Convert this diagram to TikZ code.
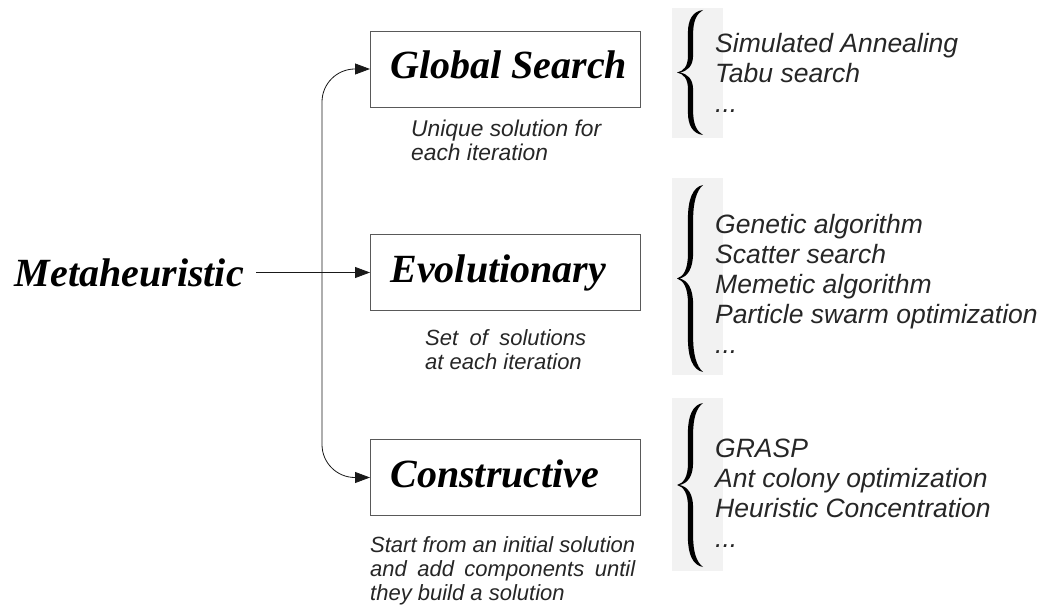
\documentclass[tikz,border=0pt]{standalone}
\usepackage{fontspec}
\setmainfont{Liberation Serif}
\setsansfont{Liberation Sans}
\usetikzlibrary{arrows.meta,positioning}

\tikzset{
    x=1pt, y=-1pt,
    classbox/.style={draw=black!65, line width=0.9pt, minimum width=270pt, minimum height=76pt,
        inner xsep=20pt, inner ysep=0pt, align=left,
        text height=30pt, text depth=10pt,
        font=\fontsize{40}{40}\selectfont\bfseries\itshape},
    flow/.style={draw=black!90, line width=0.8pt, -{Triangle[length=15pt,width=11pt]}},
    notetext/.style={anchor=north west, inner sep=0pt, align=left, text=black!85,
        font=\sffamily\itshape\fontsize{22}{24}\selectfont},
    listtext/.style={anchor=north west, inner sep=0pt, align=left, text=black!85,
        font=\sffamily\itshape\fontsize{26.5}{30}\selectfont},
    bracebg/.style={fill=black!5, draw=none},
    % curly brace in a unit box: point at (0,0), tips at (1,-0.5) and (1,0.5)
    bigbrace/.pic={
        \fill[black] (1,-0.5) .. controls (0.6,-0.49) and (0.42,-0.42) .. (0.42,-0.32)
            -- (0.42,-0.13) .. controls (0.42,-0.05) and (0.25,-0.01) .. (0,0)
            .. controls (0.25,0.01) and (0.42,0.05) .. (0.42,0.13)
            -- (0.42,0.32) .. controls (0.42,0.42) and (0.6,0.49) .. (1,0.5)
            .. controls (0.75,0.47) and (0.62,0.41) .. (0.62,0.31)
            -- (0.62,0.14) .. controls (0.62,0.05) and (0.4,0.01) .. (0.1,0)
            .. controls (0.4,-0.01) and (0.62,-0.05) .. (0.62,-0.14)
            -- (0.62,-0.31) .. controls (0.62,-0.41) and (0.75,-0.47) .. (1,-0.5) -- cycle;
    },
}

\begin{document}
\begin{tikzpicture}
    \useasboundingbox (0,0) rectangle (1054,612);

    \def\boxX{370}; % left edge of the three boxes
    \def\busX{322}; % x of the vertical connector
    \def\listX{715}; % left edge of the lists
    \def\braceX{677}; % point of the braces

    %%% main boxes %%%
    \node[classbox, anchor=west] (gs) at (\boxX, 69) {\makebox[230pt][l]{Global Search}};
    \node[classbox, anchor=west] (evo) at (\boxX, 272.5) {\makebox[230pt][l]{Evolutionary}};
    \node[classbox, anchor=west] (cons) at (\boxX, 477.5) {\makebox[230pt][l]{Constructive}};

    \node[anchor=east, inner xsep=12pt, font=\fontsize{40}{40}\selectfont\bfseries\itshape] (meta) at (256, 272.5) {Metaheuristic};

    %%% connectors %%%
    \coordinate (bus) at (\busX, 272.5);
    \draw[flow] (meta.east) -- (evo.west);
    \draw[flow, {Triangle[length=15pt,width=11pt]}-{Triangle[length=15pt,width=11pt]}, rounded corners=33pt] (gs.west) -| (bus) |- (cons.west);

    %%% notes under the boxes %%%
    \node[notetext, font=\sffamily\itshape\fontsize{22.8}{24}\selectfont] (notegs) at (411, 120) {\strut Unique solution for\\each iteration};
    \node[notetext] (noteevo) at (425, 328) {\strut\makebox[161pt][s]{Set of solutions}\\at each iteration};
    \node[notetext] (notecons) at (370, 535.5) {\strut\makebox[265pt][s]{Start from an initial solution}\\\makebox[265pt][s]{and add components until}\\they build a solution};

    %%% braces %%%
    \fill[bracebg] (672, 8) rectangle (723, 138);
    \fill[bracebg] (672, 178) rectangle (723, 375);
    \fill[bracebg] (672, 398) rectangle (723, 571);

    \pic[xscale=26, yscale=125] at (\braceX, 72.5) {bigbrace};
    \pic[xscale=26, yscale=187] at (\braceX, 278.5) {bigbrace};
    \pic[xscale=26, yscale=164] at (\braceX, 485) {bigbrace};

    %%% lists of methods %%%
    \node[listtext] (listgs) at (\listX, 31) {\strut Simulated Annealing\\Tabu search\\...};
    \node[listtext] (listevo) at (\listX, 212) {\strut Genetic algorithm\\Scatter search\\Memetic algorithm\\Particle swarm optimization\\...};
    \node[listtext] (listcons) at (\listX, 436) {\strut GRASP\\Ant colony optimization\\Heuristic Concentration\\...};
\end{tikzpicture}
\end{document}
